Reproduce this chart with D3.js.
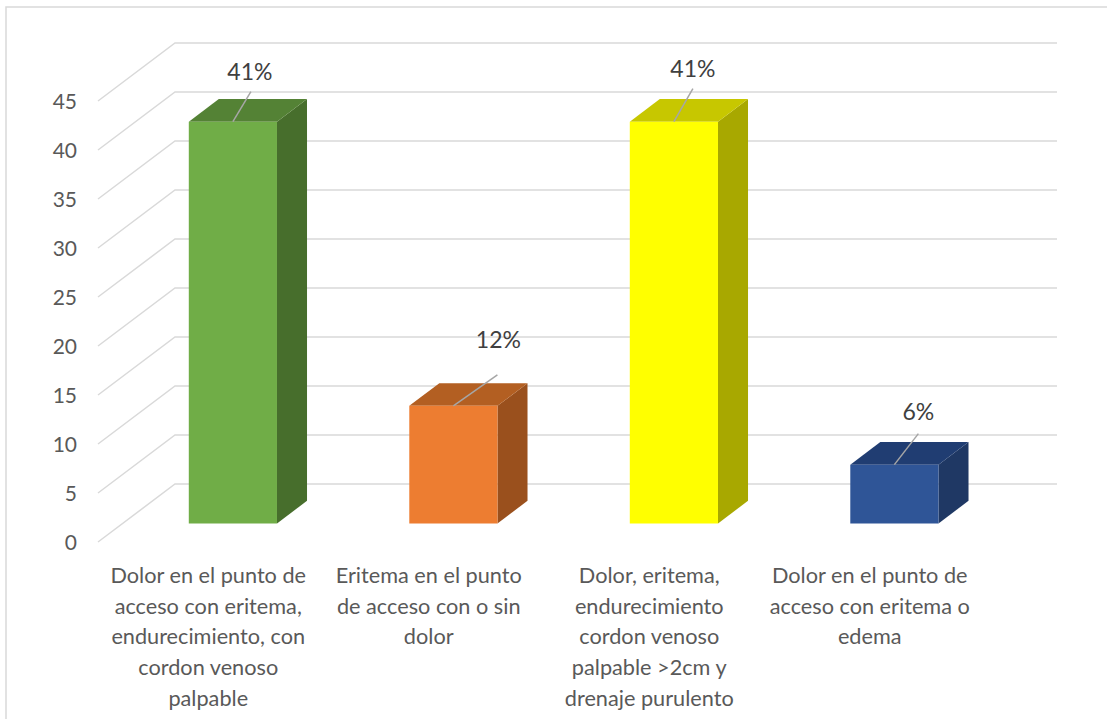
<!DOCTYPE html>
<html>
<head>
<meta charset="utf-8">
<script src="https://cdn.jsdelivr.net/npm/d3@7"></script>
<style>
  html, body { margin: 0; padding: 0; background: #fff; }
  svg { display: block; font-family: Lato, "Open Sans", sans-serif; }
</style>
</head>
<body>
<svg id="chart" width="1107" height="719"></svg>
<script>
// Categories (line breaks as shown under each column)
const categories = [
  "Dolor en el punto de\nacceso con eritema,\nendurecimiento, con\ncordon venoso\npalpable",
  "Eritema en el punto\nde acceso con o sin\ndolor",
  "Dolor, eritema,\nendurecimiento\ncordon venoso\npalpable >2cm y\ndrenaje purulento",
  "Dolor en el punto de\nacceso con eritema o\nedema"
];
// Percentage of cases per category
const values = [41, 12, 41, 6];
const valueLabels = ["41%", "12%", "41%", "6%"];
const yTicks = [0, 5, 10, 15, 20, 25, 30, 35, 40, 45];

// Face colours: front, top, side
const frontColors = ["#70AD47", "#ED7D31", "#FFFF00", "#2F5597"];
const topColors   = ["#548235", "#B35F22", "#C7C700", "#203D72"];
const sideColors  = ["#476E2C", "#9A501D", "#A8A800", "#1F3864"];

// --- layout of the 3-D box ---
const svg = d3.select("#chart");
const W = 1107, H = 719;
const front = { x0: 98, x1: 980, y0: 542 };      // front edge of the floor
const depth = { dx: 77, dy: -58 };               // vector from front to back wall
const barT0 = 0.32, barT1 = 0.71;                // bar depth range (fraction of depth)

const y = d3.scaleLinear().domain([0, 45]).range([0, 441]);
const x = d3.scaleBand().domain(d3.range(categories.length))
  .range([front.x0, front.x1]).paddingInner(0.6).paddingOuter(0.3);

// project (front-plane x, value, depth fraction t) to screen
function P(px, v, t) {
  return [px + depth.dx * t, front.y0 - y(v) + depth.dy * t];
}

// outer chart border
svg.append("rect")
  .attr("x", 6).attr("y", 7).attr("width", W + 10).attr("height", H + 10)
  .attr("fill", "none").attr("stroke", "#D9D9D9").attr("stroke-width", 1.5);

// gridlines: side wall diagonal + back wall horizontal
const grid = svg.append("g").attr("fill", "none")
  .attr("stroke", "#D9D9D9").attr("stroke-width", 1.5);
yTicks.forEach(v => {
  const a = P(front.x0, v, 0), b = P(front.x0, v, 1), c = P(front.x1, v, 1);
  grid.append("path").attr("d", `M${a}L${b}L${c}`);
});

// y-axis tick labels
svg.append("g").selectAll("text").data(yTicks).join("text")
  .attr("x", 77).attr("y", d => front.y0 - y(d))
  .attr("dy", "0.36em").attr("text-anchor", "end")
  .attr("font-size", 21).attr("fill", "#595959")
  .text(d => d);

// bars
const bars = svg.append("g");
values.forEach((v, i) => {
  const xl = x(i), xr = x(i) + x.bandwidth();
  const g = bars.append("g");
  const poly = pts => "M" + pts.map(p => p.join(",")).join("L") + "Z";
  // right side face
  g.append("path").attr("fill", sideColors[i]).attr("d", poly([
    P(xr, 0, barT0), P(xr, 0, barT1), P(xr, v, barT1), P(xr, v, barT0)
  ]));
  // top face
  g.append("path").attr("fill", topColors[i]).attr("d", poly([
    P(xl, v, barT0), P(xr, v, barT0), P(xr, v, barT1), P(xl, v, barT1)
  ]));
  // front face
  g.append("path").attr("fill", frontColors[i]).attr("d", poly([
    P(xl, 0, barT0), P(xr, 0, barT0), P(xr, v, barT0), P(xl, v, barT0)
  ]));
});

// data labels with leader lines (label centre offset and line end offset)
const labelNudge = [[17, -50], [45, -66], [19, -53], [24, -53]];
const leaderNudge = [[18, -30], [44, -31], [19, -33], [24, -31]];
const labels = svg.append("g");
values.forEach((v, i) => {
  const s = P(x(i) + x.bandwidth() / 2, v, barT0);
  labels.append("line")
    .attr("x1", s[0]).attr("y1", s[1])
    .attr("x2", s[0] + leaderNudge[i][0]).attr("y2", s[1] + leaderNudge[i][1])
    .attr("stroke", "#A6A6A6").attr("stroke-width", 1.5);
  labels.append("text")
    .attr("x", s[0] + labelNudge[i][0]).attr("y", s[1] + labelNudge[i][1])
    .attr("dy", "0.36em").attr("text-anchor", "middle")
    .attr("font-size", 23).attr("fill", "#404040")
    .text(valueLabels[i]);
});

// category labels under the floor
const cat = svg.append("g");
categories.forEach((c, i) => {
  const cx = x(i) + x.bandwidth() / 2;
  const t = cat.append("text").attr("text-anchor", "middle")
    .attr("font-size", 21.7).attr("fill", "#595959");
  c.split("\n").forEach((line, k) => {
    t.append("tspan").attr("x", cx).attr("y", 575 + k * 30.8)
      .attr("dy", "0.36em").text(line);
  });
});
</script>
</body>
</html>
